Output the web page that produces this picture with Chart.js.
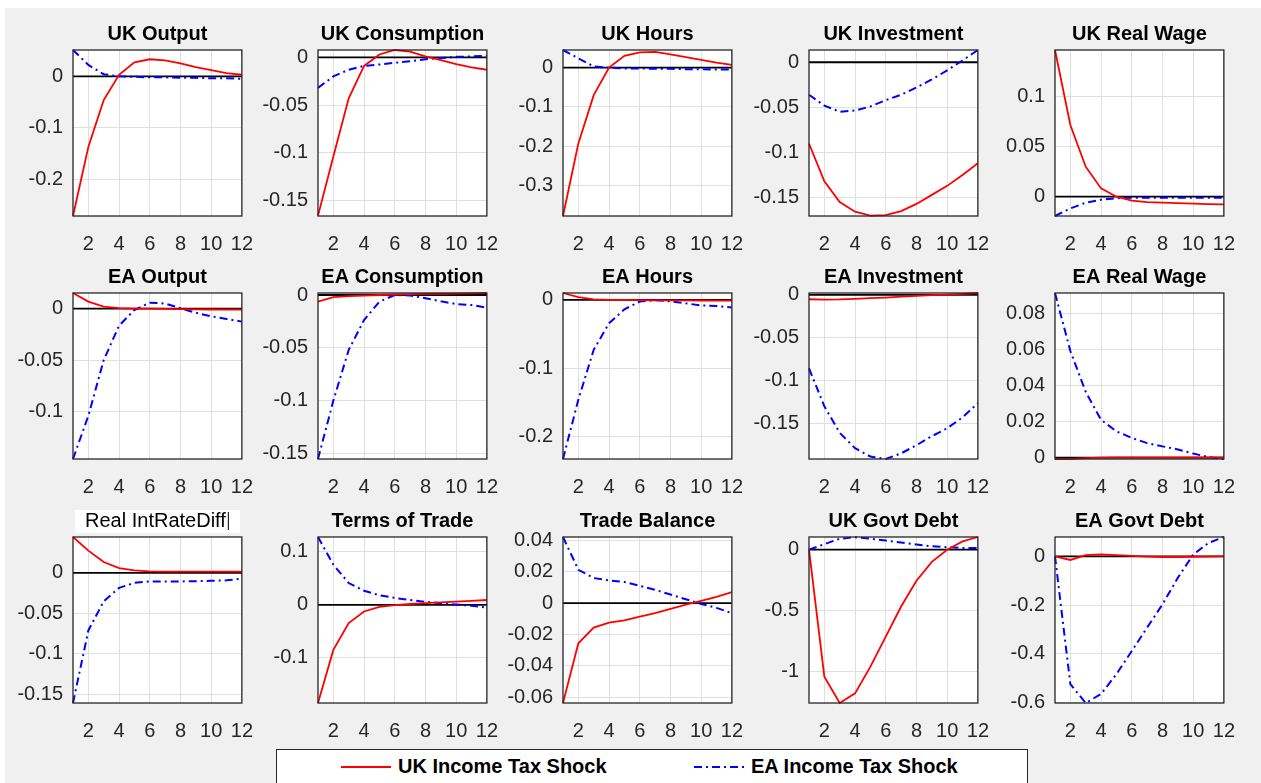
<!DOCTYPE html>
<html>
<head>
<meta charset="utf-8">
<script src="https://cdn.jsdelivr.net/npm/chart.js@4.4.1/dist/chart.umd.min.js"></script>
<style>
    html, body { margin: 0; padding: 0; background: #fff; overflow: hidden; }
    #figure { position: absolute; left: 5px; top: 8px; width: 1256px; height: 775px; background: #f0f0f0; }
    canvas { position: absolute; }
    #legend { position: absolute; left: 276px; top: 749px; width: 750px; height: 44px; background: #fff;
        border: 1px solid #262626; font: bold 20px "Liberation Sans", Arial, sans-serif; color: #000; }
    #legend span { position: absolute; top: 5px; white-space: nowrap; }
    #legend svg { position: absolute; top: 12px; }
</style>
</head>
<body>
<div id="figure"></div>
<div id="legend">
    <svg width="52" height="10" style="left:64px"><line x1="0" y1="5" x2="50" y2="5" stroke="#ff0000" stroke-width="2"/></svg>
    <span style="left:121px">UK Income Tax Shock</span>
    <svg width="52" height="10" style="left:417px"><line x1="0" y1="5" x2="50" y2="5" stroke="#0000ff" stroke-width="2" stroke-dasharray="8 4 2 4"/></svg>
    <span style="left:474px">EA Income Tax Shock</span>
</div>
<script>
const PERIODS = [1, 2, 3, 4, 5, 6, 7, 8, 9, 10, 11, 12];
const X_TICKS = [2, 4, 6, 8, 10, 12];
const ZERO = [0, 0, 0, 0, 0, 0, 0, 0, 0, 0, 0, 0];

const TITLES = ["UK Output", "UK Consumption", "UK Hours", "UK Investment", "UK Real Wage",
    "EA Output", "EA Consumption", "EA Hours", "EA Investment", "EA Real Wage",
    "Real IntRateDiff", "Terms of Trade", "Trade Balance", "UK Govt Debt", "EA Govt Debt"];

// red = UK income tax shock, blue = EA income tax shock
const ukOutput_UK = [-0.271, -0.137, -0.046, 0.003, 0.027, 0.033, 0.031, 0.025, 0.018, 0.012, 0.006, 0.003];
const ukOutput_EA = [0.051, 0.022, 0.004, 0.0, -0.001, -0.002, -0.002, -0.003, -0.003, -0.004, -0.004, -0.005];
const ukOutputLim = [-0.271, 0.051];
const ukOutputTicks = [-0.2, -0.1, 0];

const ukCons_UK = [-0.166, -0.104, -0.043, -0.009, 0.003, 0.0077, 0.006, 0.001, -0.003, -0.007, -0.0105, -0.013];
const ukCons_EA = [-0.032, -0.020, -0.013, -0.009, -0.0075, -0.0057, -0.004, -0.002, -0.0008, 0.0005, 0.001, 0.0017];
const ukConsLim = [-0.1664, 0.0077];
const ukConsTicks = [-0.15, -0.1, -0.05, 0];

const ukHours_UK = [-0.378, -0.193, -0.070, 0.0, 0.030, 0.039, 0.040, 0.034, 0.027, 0.020, 0.013, 0.007];
const ukHours_EA = [0.045, 0.024, 0.003, 0.0, -0.002, -0.002, -0.003, -0.003, -0.004, -0.004, -0.005, -0.005];
const ukHoursLim = [-0.378, 0.045];
const ukHoursTicks = [-0.3, -0.2, -0.1, 0];

const ukInv_UK = [-0.090, -0.132, -0.155, -0.1656, -0.170, -0.1695, -0.165, -0.157, -0.147, -0.137, -0.125, -0.112];
const ukInv_EA = [-0.036, -0.048, -0.0548, -0.0535, -0.049, -0.042, -0.036, -0.028, -0.019, -0.009, 0.002, 0.0136];
const ukInvLim = [-0.1704, 0.0136];
const ukInvTicks = [-0.15, -0.1, -0.05, 0];

const ukWage_UK = [0.1467, 0.0717, 0.030, 0.0083, 0.0, -0.004, -0.0055, -0.006, -0.0065, -0.007, -0.0075, -0.0077];
const ukWage_EA = [-0.0193, -0.0117, -0.006, -0.003, -0.0015, -0.001, -0.001, -0.001, -0.001, -0.001, -0.001, -0.001];
const ukWageLim = [-0.0193, 0.1467];
const ukWageTicks = [0, 0.05, 0.1];

const eaOutput_UK = [0.0152, 0.0068, 0.002, 0.0005, 0, 0, -0.0003, -0.0005, -0.0007, -0.0008, -0.0009, -0.001];
const eaOutput_EA = [-0.146, -0.104, -0.050, -0.0165, -0.0013, 0.0058, 0.005, 0.0004, -0.004, -0.0075, -0.010, -0.0126];
const eaOutputLim = [-0.146, 0.0152];
const eaOutputTicks = [-0.1, -0.05, 0];

const eaCons_UK = [-0.0063, -0.002, -0.001, -0.0005, 0, 0.0005, 0.0008, 0.001, 0.0012, 0.0014, 0.0016, 0.0019];
const eaCons_EA = [-0.1553, -0.100, -0.052, -0.0237, -0.0063, 0.0, -0.0005, -0.003, -0.006, -0.0085, -0.0095, -0.012];
const eaConsLim = [-0.1553, 0.0019];
const eaConsTicks = [-0.15, -0.1, -0.05, 0];

const eaHours_UK = [0.0102, 0.004, 0.001, 0, 0, -0.0003, -0.0005, -0.0006, -0.0007, -0.0008, -0.0009, -0.001];
const eaHours_EA = [-0.233, -0.146, -0.073, -0.034, -0.0137, -0.0024, -0.0005, -0.002, -0.005, -0.008, -0.009, -0.011];
const eaHoursLim = [-0.233, 0.0102];
const eaHoursTicks = [-0.2, -0.1, 0];

const eaInv_UK = [-0.005, -0.0055, -0.0052, -0.0045, -0.0037, -0.003, -0.002, -0.001, -0.0002, 0.0005, 0.0013, 0.0023];
const eaInv_EA = [-0.0857, -0.130, -0.161, -0.179, -0.1888, -0.1916, -0.185, -0.1755, -0.165, -0.1557, -0.143, -0.1264];
const eaInvLim = [-0.1916, 0.0023];
const eaInvTicks = [-0.15, -0.1, -0.05, 0];

const eaWage_UK = [-0.0008, -0.0008, -0.0003, 0, 0.0001, 0.0001, 0.0001, 0.0001, 0.0001, 0.0001, 0.0001, 0.0001];
const eaWage_EA = [0.0911, 0.059, 0.0364, 0.0209, 0.0145, 0.0109, 0.008, 0.0062, 0.0045, 0.0022, 0.0003, -0.0008];
const eaWageLim = [-0.0008, 0.0911];
const eaWageTicks = [0, 0.02, 0.04, 0.06, 0.08];

const rateDiff_UK = [0.0443, 0.0275, 0.0135, 0.006, 0.003, 0.0018, 0.0015, 0.0015, 0.0015, 0.0015, 0.0015, 0.0015];
const rateDiff_EA = [-0.1605, -0.071, -0.035, -0.0185, -0.0123, -0.0105, -0.0105, -0.0105, -0.0102, -0.0098, -0.0092, -0.007];
const rateDiffLim = [-0.1605, 0.0443];
const rateDiffTicks = [-0.15, -0.1, -0.05, 0];

const tot_UK = [-0.185, -0.085, -0.0345, -0.0126, -0.004, -0.0005, 0.0015, 0.003, 0.0045, 0.006, 0.0075, 0.009];
const tot_EA = [0.1277, 0.0755, 0.041, 0.0264, 0.018, 0.013, 0.009, 0.0055, 0.003, 0.0005, -0.002, -0.005];
const totLim = [-0.185, 0.1277];
const totTicks = [-0.1, 0, 0.1];

const tb_UK = [-0.0637, -0.0256, -0.0156, -0.0124, -0.011, -0.0086, -0.0063, -0.0036, -0.001, 0.0015, 0.004, 0.007];
const tb_EA = [0.0422, 0.0213, 0.016, 0.0145, 0.0135, 0.011, 0.0085, 0.0055, 0.0025, -0.0005, -0.003, -0.0064];
const tbLim = [-0.0637, 0.0422];
const tbTicks = [-0.06, -0.04, -0.02, 0, 0.02, 0.04];

const ukDebt_UK = [0, -1.042, -1.258, -1.179, -0.96, -0.713, -0.466, -0.255, -0.10, 0.0, 0.068, 0.104];
const ukDebt_EA = [0, 0.045, 0.09, 0.102, 0.09, 0.075, 0.058, 0.042, 0.028, 0.02, 0.015, 0.013];
const ukDebtLim = [-1.258, 0.104];
const ukDebtTicks = [-1, -0.5, 0];

const eaDebt_UK = [0, -0.015, 0.005, 0.008, 0.005, 0.002, -0.001, -0.003, -0.003, -0.002, -0.001, 0];
const eaDebt_EA = [0, -0.524, -0.601, -0.564, -0.483, -0.388, -0.292, -0.197, -0.088, 0.007, 0.055, 0.079];
const eaDebtLim = [-0.601, 0.079];
const eaDebtTicks = [-0.6, -0.4, -0.2, 0];

const UK_SERIES = [ukOutput_UK, ukCons_UK, ukHours_UK, ukInv_UK, ukWage_UK,
    eaOutput_UK, eaCons_UK, eaHours_UK, eaInv_UK, eaWage_UK,
    rateDiff_UK, tot_UK, tb_UK, ukDebt_UK, eaDebt_UK];
const EA_SERIES = [ukOutput_EA, ukCons_EA, ukHours_EA, ukInv_EA, ukWage_EA,
    eaOutput_EA, eaCons_EA, eaHours_EA, eaInv_EA, eaWage_EA,
    rateDiff_EA, tot_EA, tb_EA, ukDebt_EA, eaDebt_EA];
const LIMITS = [ukOutputLim, ukConsLim, ukHoursLim, ukInvLim, ukWageLim,
    eaOutputLim, eaConsLim, eaHoursLim, eaInvLim, eaWageLim,
    rateDiffLim, totLim, tbLim, ukDebtLim, eaDebtLim];
const Y_TICKS = [ukOutputTicks, ukConsTicks, ukHoursTicks, ukInvTicks, ukWageTicks,
    eaOutputTicks, eaConsTicks, eaHoursTicks, eaInvTicks, eaWageTicks,
    rateDiffTicks, totTicks, tbTicks, ukDebtTicks, eaDebtTicks];

// subplot geometry (page pixels)
const COL_LEFT = [73, 318, 563, 809, 1055];
const ROW_TOP = [50, 293, 537];
const PLOT_W = 172, PLOT_H = 166;
const PAD_L = 70, PAD_T = 45, PAD_R = 24, PAD_B = 45;

const AXIS_COLOR = "#262626";
const FONT = "'Liberation Sans', Arial, sans-serif";

function points(values) {
    return PERIODS.map((p, i) => ({ x: p, y: values[i] }));
}

function tickText(v) {
    const n = Math.abs(v) < 1e-9 ? 0 : +v.toFixed(3);
    return String(n);
}

const boxAndTitle = {
    id: "boxAndTitle",
    beforeDraw(chart) {
        const { ctx, chartArea: a } = chart;
        ctx.save();
        ctx.fillStyle = "#ffffff";
        ctx.fillRect(a.left, a.top, a.right - a.left, a.bottom - a.top);
        ctx.restore();
    },
    afterDraw(chart, args, opts) {
        const { ctx, chartArea: a } = chart;
        ctx.save();
        ctx.strokeStyle = AXIS_COLOR;
        ctx.lineWidth = 1.3;
        ctx.strokeRect(a.left, a.top, a.right - a.left, a.bottom - a.top);
        const cx = (a.left + a.right) / 2;
        const cy = a.top - 16;
        ctx.textAlign = "center";
        ctx.textBaseline = "middle";
        if (opts.editing) {
            // title caught in edit mode: white box with caret
            ctx.font = "20px " + FONT;
            ctx.fillStyle = "#fff";
            ctx.fillRect(a.left + 2, a.top - 27, a.right - a.left - 4, 23);
            ctx.fillStyle = "#000";
            ctx.fillText(opts.text, cx - 2, cy);
            const w = ctx.measureText(opts.text).width;
            ctx.fillRect(cx - 2 + w / 2 + 2, a.top - 25, 1, 18);
        } else {
            ctx.font = "bold 20px " + FONT;
            ctx.fillStyle = "#000";
            ctx.fillText(opts.text, cx, cy);
        }
        ctx.restore();
    }
};

TITLES.forEach((title, k) => {
    const row = Math.floor(k / 5), col = k % 5;
    const canvas = document.createElement("canvas");
    canvas.width = PAD_L + PLOT_W + PAD_R;
    canvas.height = PAD_T + PLOT_H + PAD_B;
    canvas.style.left = (COL_LEFT[col] - PAD_L) + "px";
    canvas.style.top = (ROW_TOP[row] - PAD_T) + "px";
    document.body.appendChild(canvas);

    new Chart(canvas, {
        type: "line",
        data: {
            datasets: [{
                data: points(UK_SERIES[k]),
                borderColor: "#ff0000",
                borderWidth: 1.8
            }, {
                data: points(EA_SERIES[k]),
                borderColor: "#0000ff",
                borderWidth: 2,
                borderDash: [8, 4, 2, 4]
            }, {
                data: points(ZERO),
                borderColor: "#000000",
                borderWidth: 1.8
            }]
        },
        options: {
            responsive: false,
            animation: false,
            devicePixelRatio: 1,
            clip: false,
            layout: { padding: { left: 0, right: PAD_R, top: PAD_T, bottom: 0 } },
            elements: { point: { radius: 0 }, line: { tension: 0 } },
            scales: {
                x: {
                    type: "linear",
                    min: 1,
                    max: 12,
                    afterBuildTicks: (axis) => { axis.ticks = X_TICKS.map(v => ({ value: v })); },
                    afterFit: (axis) => { axis.height = PAD_B; },
                    grid: { color: "#dfdfdf", drawTicks: false },
                    border: { display: false },
                    ticks: {
                        autoSkip: false,
                        maxRotation: 0,
                        padding: 16,
                        color: AXIS_COLOR,
                        font: { family: FONT, size: 20 },
                        callback: (v) => tickText(v)
                    }
                },
                y: {
                    type: "linear",
                    min: LIMITS[k][0],
                    max: LIMITS[k][1],
                    afterBuildTicks: (axis) => { axis.ticks = Y_TICKS[k].map(v => ({ value: v })); },
                    afterFit: (axis) => { axis.width = PAD_L; },
                    grid: { color: "#dfdfdf", drawTicks: false },
                    border: { display: false },
                    ticks: {
                        autoSkip: false,
                        padding: 10,
                        color: AXIS_COLOR,
                        font: { family: FONT, size: 20 },
                        callback: (v) => tickText(v)
                    }
                }
            },
            plugins: {
                legend: { display: false },
                tooltip: { enabled: false },
                boxAndTitle: { text: title, editing: title === "Real IntRateDiff" }
            }
        },
        plugins: [boxAndTitle]
    });
});
</script>
</body>
</html>
